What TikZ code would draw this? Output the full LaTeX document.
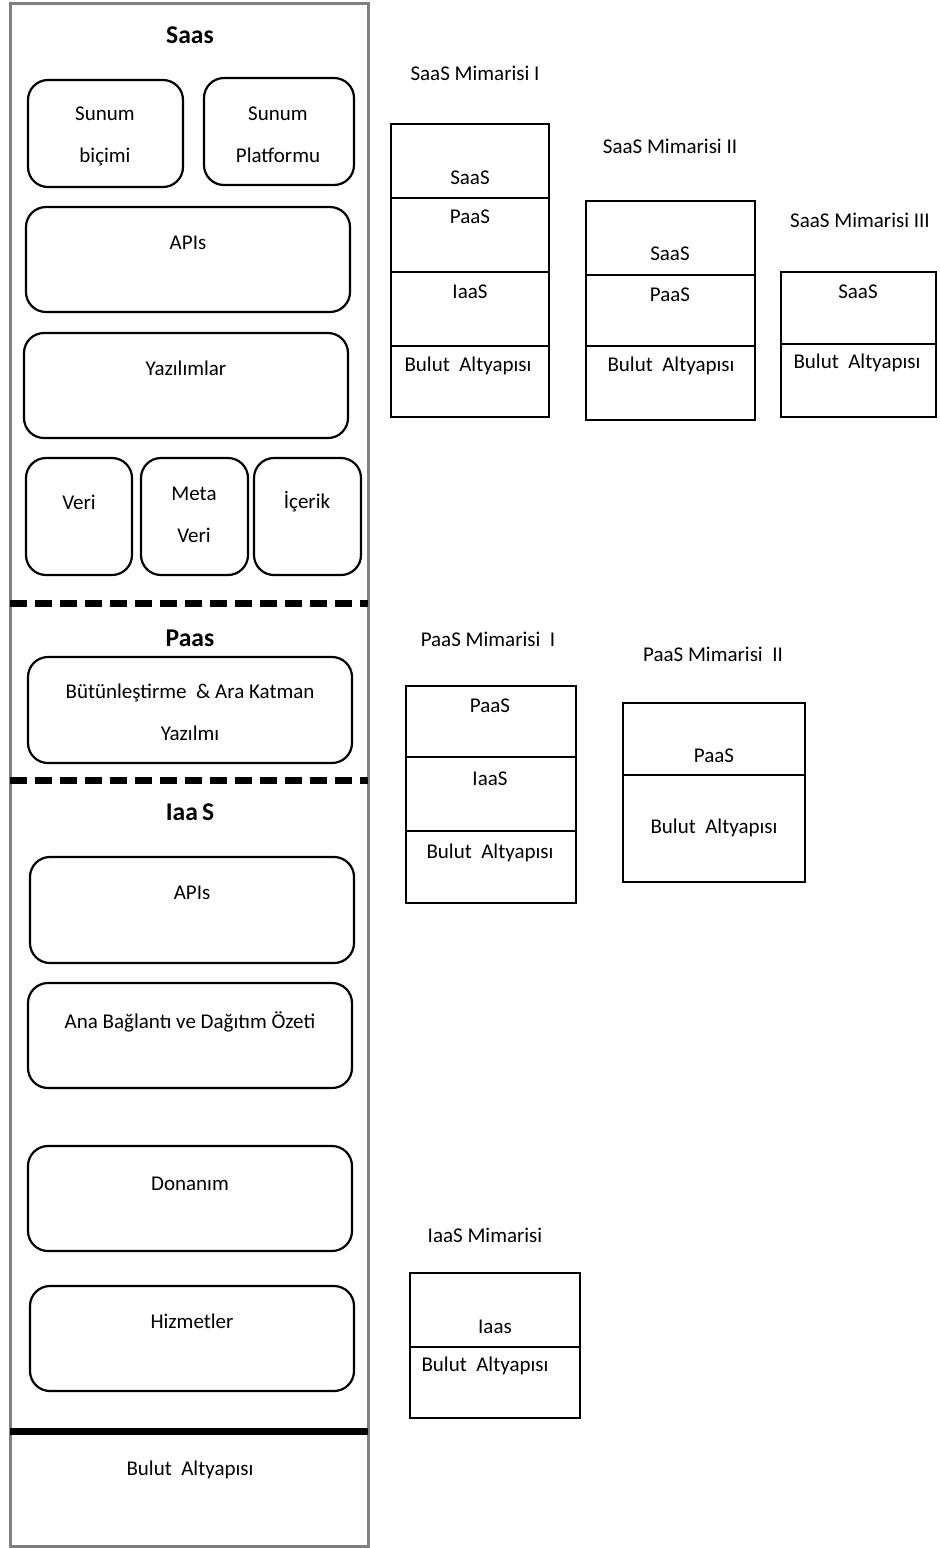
\documentclass[tikz,border=0pt]{standalone}
\usepackage{fontspec}
\setmainfont{Carlito}
\usetikzlibrary{positioning}

\begin{document}
\begin{tikzpicture}[x=0.5pt, y=-0.5pt,
    every node/.style={font=\fontsize{10.5pt}{21pt}\selectfont, align=center, inner sep=0pt},
    rbox/.style={draw=black, line width=1.1pt, rounded corners=10pt},
    layer/.style={draw=black, line width=1.1pt},
    heading/.style={font=\fontsize{12.8pt}{21pt}\selectfont\bfseries},
    sepline/.style={line width=3.5pt, dash pattern=on 8.5pt off 4pt}]
        \useasboundingbox (0,0) rectangle (940,1548);

        % Main stack
        \draw[gray, line width=1.5pt] (10,3) rectangle (368,1546);

        % SaaS part
        \node[heading] (saas) at (190,35) {Saas};
        \draw[rbox] (28,80) rectangle (183,187);
        \node (sunumbicimi) at (105,136) {Sunum\\biçimi};
        \draw[rbox] (204,78) rectangle (354,185);
        \node (sunumplat) at (278,135) {Sunum\\Platformu};
        \draw[rbox] (26,207) rectangle (350,312);
        \node (saasapis) at (188,243) {APIs};
        \draw[rbox] (24,333) rectangle (348,438);
        \node (yazilimlar) at (186,368) {Yazılımlar};
        \draw[rbox] (26,458) rectangle (132,575);
        \node (veri) at (79,502) {Veri};
        \draw[rbox] (141,458) rectangle (248,575);
        \node (metaveri) at (194,515) {Meta\\Veri};
        \draw[rbox] (254,458) rectangle (361,575);
        \node (icerik) at (307,502) {İçerik};
        \draw[sepline] (10,603) -- (368,603);

        % PaaS part
        \node[heading] (paas) at (190,638) {Paas};
        \draw[rbox] (28,657) rectangle (352,763);
        \node (butunlestirme) at (190,712) {Bütünleştirme~~\&~Ara Katman\\Yazılmı};
        \draw[sepline] (10,780) -- (368,780);

        % IaaS part
        \node[heading] (iaas) at (190,812) {Iaa\,S};
        \draw[rbox] (30,857) rectangle (354,963);
        \node (iaasapis) at (192,893) {APIs};
        \draw[rbox] (28,983) rectangle (352,1088);
        \node (anabaglanti) at (190,1022) {Ana Bağlantı ve Dağıtım Özeti};
        \draw[rbox] (28,1146) rectangle (352,1251);
        \node (donanim) at (190,1184) {Donanım};
        \draw[rbox] (30,1286) rectangle (354,1391);
        \node (hizmetler) at (192,1321) {Hizmetler};
        \draw[line width=3.5pt] (10,1431) -- (368,1431);
        \node (bulut) at (190,1470) {Bulut~~Altyapısı};

        % SaaS Mimarisi I
        \node (saasm1) at (475,73) {SaaS Mimarisi I};
        \draw[layer] (391,124) rectangle (549,417);
        \draw[layer] (391,198) -- (549,198);
        \draw[layer] (391,272) -- (549,272);
        \draw[layer] (391,346) -- (549,346);
        \node (s1saas) at (470,178) {SaaS};
        \node (s1paas) at (470,217) {PaaS};
        \node (s1iaas) at (470,292) {IaaS};
        \node (s1bulut) at (468,366) {Bulut~~Altyapısı};

        % SaaS Mimarisi II
        \node (saasm2) at (670,146) {SaaS Mimarisi II};
        \draw[layer] (586,201) rectangle (755,420);
        \draw[layer] (586,275) -- (755,275);
        \draw[layer] (586,346) -- (755,346);
        \node (s2saas) at (670,254) {SaaS};
        \node (s2paas) at (670,295) {PaaS};
        \node (s2bulut) at (671,366) {Bulut~~Altyapısı};

        % SaaS Mimarisi III
        \node (saasm3) at (860,220) {SaaS Mimarisi III};
        \draw[layer] (781,272) rectangle (936,417);
        \draw[layer] (781,344) -- (936,344);
        \node (s3saas) at (858,292) {SaaS};
        \node (s3bulut) at (857,363) {Bulut~~Altyapısı};

        % PaaS Mimarisi I
        \node (paasm1) at (488,639) {PaaS Mimarisi~~I};
        \draw[layer] (406,686) rectangle (576,903);
        \draw[layer] (406,757) -- (576,757);
        \draw[layer] (406,831) -- (576,831);
        \node (p1paas) at (490,706) {PaaS};
        \node (p1iaas) at (490,779) {IaaS};
        \node (p1bulut) at (490,853) {Bulut~~Altyapısı};

        % PaaS Mimarisi II
        \node (paasm2) at (713,654) {PaaS Mimarisi~~II};
        \draw[layer] (623,703) rectangle (805,882);
        \draw[layer] (623,775) -- (805,775);
        \node (p2paas) at (714,756) {PaaS};
        \node (p2bulut) at (714,828) {Bulut~~Altyapısı};

        % IaaS Mimarisi
        \node (iaasm) at (485,1235) {IaaS Mimarisi};
        \draw[layer] (410,1273) rectangle (580,1418);
        \draw[layer] (410,1347) -- (580,1347);
        \node (i1iaas) at (495,1327) {Iaas};
        \node (i1bulut) at (485,1366) {Bulut~~Altyapısı};
\end{tikzpicture}
\end{document}
